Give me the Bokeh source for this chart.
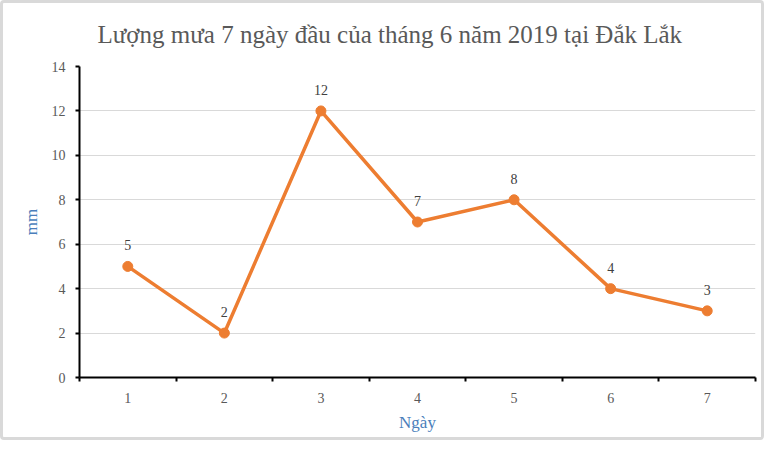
from bokeh.plotting import figure
from bokeh.models import ColumnDataSource, FixedTicker, LabelSet
from bokeh.embed import file_html
from bokeh.resources import INLINE

days = [1, 2, 3, 4, 5, 6, 7]
rain_mm = [5, 2, 12, 7, 8, 4, 3]
y_ticks = [0, 2, 4, 6, 8, 10, 12, 14]

SERIF = "Liberation Serif"
GRAY = "#595959"
BLUE = "#4a7ebb"
ORANGE = "#ed7d31"

src = ColumnDataSource(data=dict(x=days, y=rain_mm, lbl=[str(v) for v in rain_mm]))

p = figure(
    width=764, height=440,
    x_range=(0.5, 7.5), y_range=(0, 14),
    output_backend="svg", toolbar_location=None, tools="",
    title="Lượng mưa 7 ngày đầu của tháng 6 năm 2019 tại Đắk Lắk",
    x_axis_label="Ngày", y_axis_label="mm",
)
p.min_border_left = 76
p.min_border_right = 12
p.min_border_top = 63
p.min_border_bottom = 66
p.outline_line_color = None
p.background_fill_color = "white"
p.border_fill_color = "white"
p.styles = {"border": "3px solid #d9d9d9", "border-radius": "4px", "box-sizing": "border-box"}

p.title.text_font = SERIF
p.title.text_font_size = "25px"
p.title.text_font_style = "normal"
p.title.text_color = GRAY
p.title.align = "left"
p.title.offset = 18
p.title.vertical_align = "top"
p.title.standoff = 33

p.line("x", "y", source=src, line_color=ORANGE, line_width=3.5)
p.scatter("x", "y", source=src, size=10, fill_color=ORANGE, line_color=ORANGE)

labels = LabelSet(x="x", y="y", text="lbl", source=src, y_offset=21,
                  text_align="center", text_baseline="middle",
                  text_font=SERIF, text_font_size="14px", text_color="#404040")
p.add_layout(labels)

# x axis: labels at the categories, tick marks between them
xa = p.xaxis[0]
xa.ticker = FixedTicker(ticks=days, minor_ticks=[d - 0.5 for d in days] + [7.5])
xa.major_tick_line_color = None
xa.major_tick_in = 0
xa.major_tick_out = 0
xa.minor_tick_line_color = "black"
xa.minor_tick_line_width = 2
xa.minor_tick_in = 0
xa.minor_tick_out = 4
xa.axis_line_color = "black"
xa.axis_line_width = 2
xa.major_label_text_font = SERIF
xa.major_label_text_font_size = "14px"
xa.major_label_text_color = GRAY
xa.major_label_standoff = 11
xa.axis_label_text_font = SERIF
xa.axis_label_text_font_size = "17px"
xa.axis_label_text_font_style = "normal"
xa.axis_label_text_color = BLUE
xa.axis_label_standoff = 7

ya = p.yaxis[0]
ya.ticker = FixedTicker(ticks=y_ticks)
ya.minor_tick_line_color = None
ya.major_tick_line_color = "black"
ya.major_tick_line_width = 2
ya.major_tick_in = 0
ya.major_tick_out = 4
ya.axis_line_color = "black"
ya.axis_line_width = 2
ya.major_label_text_font = SERIF
ya.major_label_text_font_size = "14px"
ya.major_label_text_color = GRAY
ya.major_label_standoff = 10
ya.axis_label_text_font = SERIF
ya.axis_label_text_font_size = "17px"
ya.axis_label_text_font_style = "normal"
ya.axis_label_text_color = BLUE
ya.axis_label_standoff = 8

p.xgrid.grid_line_color = None
p.ygrid.grid_line_color = "#d9d9d9"
p.ygrid.grid_line_width = 1

open("out.html", "w").write(file_html(p, INLINE))
